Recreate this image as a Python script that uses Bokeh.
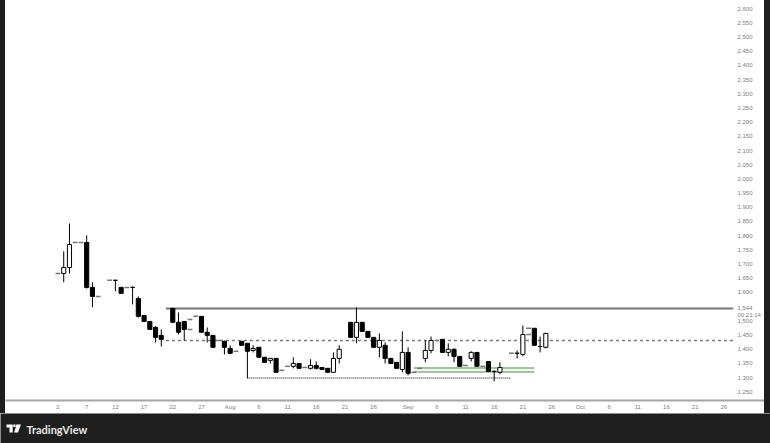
from bokeh.core.properties import value
from bokeh.embed import file_html
from bokeh.layouts import column, row
from bokeh.models import ColumnDataSource, FixedTicker, LinearAxis, Range1d, Spacer
from bokeh.plotting import figure
from bokeh.resources import INLINE

# days counted from 2 Jul
days = [1, 2, 5, 6, 10, 11, 13, 14, 15, 16, 17, 18, 20, 21, 22, 25, 26, 27, 29, 30, 32, 33, 34, 35,
        36, 37, 38, 41, 42, 44, 45, 46, 47, 48, 49, 51, 52, 53, 54, 55, 56, 57, 58, 59, 60, 61,
        64, 65, 67, 68, 69, 70, 72, 73, 75, 76, 77, 80, 81, 83, 84, 85]
opens = [1.667, 1.688, 1.776, 1.618, 1.643, 1.618, 1.618, 1.579, 1.519, 1.498, 1.477, 1.449, 1.544, 1.495, 1.498,
         1.516, 1.460, 1.449, 1.428, 1.403, 1.428, 1.421, 1.396, 1.407,
         1.372, 1.361, 1.368, 1.340, 1.350, 1.333, 1.343, 1.336, 1.333, 1.319, 1.368, 1.495, 1.442, 1.495, 1.463, 1.442, 1.407, 1.414, 1.368, 1.354, 1.329, 1.389,
         1.368, 1.396, 1.435, 1.389, 1.400, 1.375, 1.368, 1.389, 1.357, 1.322, 1.319, 1.386, 1.382, 1.474, 1.410, 1.407]
highs = [1.745, 1.843, 1.801, 1.636, 1.643, 1.618, 1.621, 1.586, 1.519, 1.498, 1.481, 1.470, 1.544, 1.530, 1.477,
         1.516, 1.477, 1.449, 1.431, 1.414, 1.428, 1.414, 1.414, 1.407,
         1.372, 1.361, 1.368, 1.372, 1.350, 1.365, 1.357, 1.336, 1.333, 1.389, 1.414, 1.495, 1.548, 1.495, 1.463, 1.442, 1.456, 1.424, 1.368, 1.354, 1.463, 1.407,
         1.431, 1.445, 1.435, 1.421, 1.403, 1.375, 1.393, 1.389, 1.357, 1.326, 1.354, 1.396, 1.484, 1.474, 1.445, 1.456]
lows = [1.636, 1.667, 1.614, 1.548, 1.604, 1.597, 1.558, 1.512, 1.498, 1.470, 1.424, 1.410, 1.495, 1.452, 1.431,
        1.460, 1.424, 1.407, 1.382, 1.382, 1.414, 1.298, 1.389, 1.372,
        1.354, 1.350, 1.319, 1.333, 1.333, 1.329, 1.329, 1.329, 1.319, 1.319, 1.350, 1.442, 1.421, 1.463, 1.442, 1.407, 1.372, 1.350, 1.350, 1.333, 1.319, 1.308,
        1.354, 1.386, 1.389, 1.375, 1.354, 1.340, 1.357, 1.340, 1.322, 1.287, 1.312, 1.368, 1.375, 1.414, 1.389, 1.403]
closes = [1.688, 1.769, 1.618, 1.586, 1.643, 1.597, 1.618, 1.516, 1.498, 1.470, 1.442, 1.435, 1.495, 1.460, 1.470,
          1.460, 1.449, 1.407, 1.407, 1.386, 1.414, 1.393, 1.403, 1.372,
          1.354, 1.368, 1.319, 1.350, 1.333, 1.343, 1.333, 1.329, 1.319, 1.368, 1.400, 1.442, 1.495, 1.463, 1.442, 1.407, 1.431, 1.368, 1.350, 1.333, 1.389, 1.315,
          1.396, 1.431, 1.389, 1.400, 1.375, 1.340, 1.389, 1.340, 1.322, 1.322, 1.336, 1.386, 1.452, 1.414, 1.410, 1.456]

# flat bars, only a short grey dash
flat_days = [0, 3, 4, 7, 9, 12, 23, 23, 24, 28, 31, 39, 40, 43, 62, 63, 66, 71, 74, 79, 82, 82]
flat_prices = [1.667, 1.776, 1.776, 1.586, 1.643, 1.618, 1.505, 1.470, 1.516, 1.431, 1.393, 1.326, 1.340, 1.336,
               1.319, 1.333, 1.431, 1.343, 1.340, 1.386, 1.474, 1.452]

resistance = 1.544
pivot = 1.431
support = 1.299
green_levels = [1.334, 1.320]

y_ticks = [2.6, 2.55, 2.5, 2.45, 2.4, 2.35, 2.3, 2.25, 2.2, 2.15, 2.1, 2.05, 2.0, 1.95, 1.9, 1.85, 1.8,
           1.75, 1.7, 1.65, 1.6, 1.5, 1.45, 1.4, 1.35, 1.3, 1.25]
price_tag = 1.544
countdown_at = 1.519
countdown = "00:21:14"
x_ticks = [0, 5, 10, 15, 20, 25, 30, 35, 40, 45, 50, 55, 61, 66, 71, 76, 81, 86, 91, 96, 101, 106, 111, 116]
x_labels = ["2", "7", "12", "17", "22", "27", "Aug", "6", "11", "16", "21", "26",
            "Sep", "6", "11", "16", "21", "26", "Oct", "6", "11", "16", "21", "26"]

DARK = "#1e1e1e"
GREY = "#808080"

p = figure(frame_width=728, frame_height=399, output_backend="svg", toolbar_location=None,
           x_range=Range1d(-9.146, 117.7), y_range=Range1d(1.2232, 2.6282),
           x_axis_location=None, y_axis_location=None,
           min_border_left=0, min_border_top=0, min_border_right=31, min_border_bottom=0,
           background_fill_color="white", border_fill_color="white", outline_line_color=None)
p.grid.visible = False

labels = {t: f"{t:.3f}" for t in y_ticks}
labels[price_tag] = f"{price_tag:.3f}"
labels[countdown_at] = countdown
yaxis = LinearAxis(ticker=FixedTicker(ticks=y_ticks + [price_tag, countdown_at]), major_label_overrides=labels)
yaxis.axis_line_color = None
yaxis.major_tick_line_color = None
yaxis.minor_tick_line_color = None
yaxis.major_tick_out = 0
yaxis.major_label_text_font_size = "6px"
yaxis.major_label_text_font = "Liberation Sans"
yaxis.major_label_text_color = GREY
yaxis.major_label_standoff = 4
p.add_layout(yaxis, "right")

# levels
p.segment([18.8], [resistance], [117.7], [resistance], line_color="#777777", line_width=2)
p.segment([18.8], [pivot], [117.7], [pivot], line_color="#777777", line_width=1.5, line_dash="3 3")
p.segment([33], [support], [79], [support], line_color="#555555", line_width=1.5, line_dash="1 1")
p.quad(left=[62], right=[83], top=[green_levels[0]], bottom=[green_levels[1]], fill_color="#eef5ec", line_color=None)
p.segment([62] * 2, green_levels, [83] * 2, green_levels, line_color="#a3c5a0", line_width=2)

up = [c >= o for o, c in zip(opens, closes)]
src = ColumnDataSource(dict(
    day=days, high=highs, low=lows,
    top=[max(o, c) for o, c in zip(opens, closes)],
    bottom=[min(o, c) for o, c in zip(opens, closes)],
    fill=["white" if u else "black" for u in up],
))
p.segment("day", "high", "day", "low", source=src, line_color="black", line_width=1)
p.vbar("day", 0.72, "bottom", "top", source=src, fill_color="fill", line_color="black", line_width=1)

flat = ColumnDataSource(dict(x0=[d - 0.42 for d in flat_days], x1=[d + 0.42 for d in flat_days], y=flat_prices))
p.segment("x0", "y", "x1", "y", source=flat, line_color="#777777", line_width=1.5)

# date scale, its own strip so the rule runs under the price scale too
dates = figure(frame_width=759, frame_height=1, output_backend="svg", toolbar_location=None,
               x_range=Range1d(-9.146, 123.08), y_range=Range1d(0, 1),
               x_axis_location=None, y_axis_location=None,
               min_border_left=0, min_border_top=0, min_border_right=0, min_border_bottom=13,
               background_fill_color="white", border_fill_color="white", outline_line_color=None)
dates.grid.visible = False
xaxis = LinearAxis(ticker=FixedTicker(ticks=x_ticks),
                   major_label_overrides=dict(zip(x_ticks, x_labels)))
xaxis.axis_line_color = "#a6a6a6"
xaxis.axis_line_width = 2
xaxis.major_tick_line_color = None
xaxis.minor_tick_line_color = None
xaxis.major_tick_out = 0
xaxis.major_label_text_font_size = "6px"
xaxis.major_label_text_font = "Liberation Sans"
xaxis.major_label_text_color = GREY
xaxis.major_label_standoff = 3
dates.add_layout(xaxis, "below")

# footer with the TradingView mark and name
foot = figure(frame_width=770, frame_height=30, output_backend="svg", toolbar_location=None,
              x_range=Range1d(0, 770), y_range=Range1d(30, 0),
              x_axis_location=None, y_axis_location=None,
              min_border_left=0, min_border_top=0, min_border_right=0, min_border_bottom=0,
              background_fill_color=DARK, border_fill_color=DARK, outline_line_color=None)
foot.grid.visible = False
foot.patches([[6, 12.2, 12.2, 9, 9, 6], [12.8, 15, 15, 12.8], [15.8, 20.5, 17.5, 13.5, 14.8]],
             [[11, 11, 19, 19, 14, 14], [11, 11, 13.5, 13.5], [11, 11, 19, 19, 15.5]],
             fill_color="white", line_color=None)
foot.text([26], [16], text=["TradingView"], text_color="#e8e8e8", text_font=value("Lato"),
          text_font_size="11px", text_font_style="bold", text_baseline="middle")

left = Spacer(width=5, height=413, styles={"background-color": DARK})
right = Spacer(width=6, height=413, styles={"background-color": DARK})
layout = column(row(left, column(p, dates), right), foot)

open("out.html", "w").write(file_html(layout, INLINE))
